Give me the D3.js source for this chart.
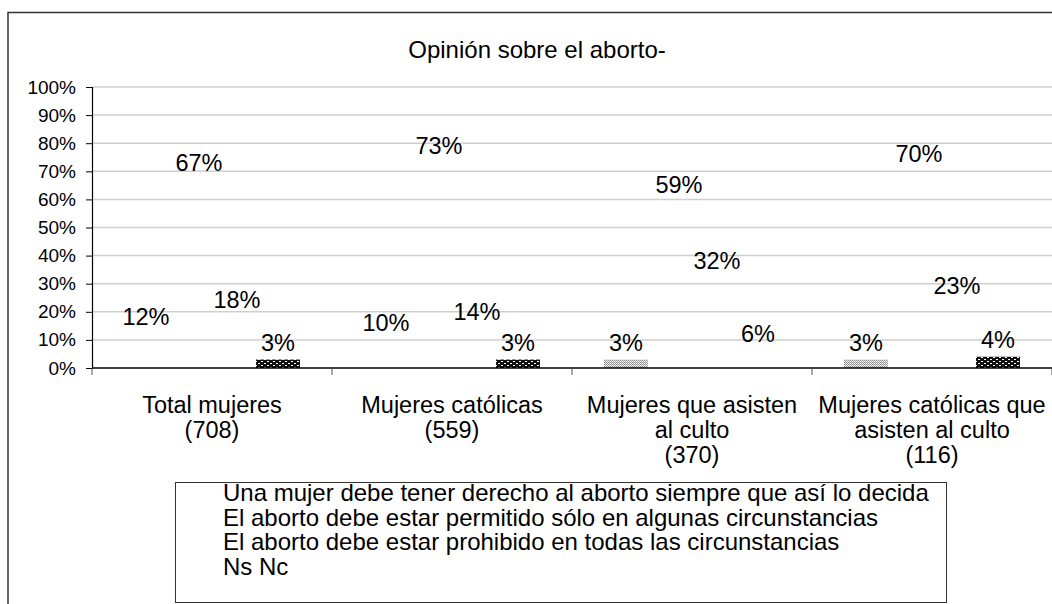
<!DOCTYPE html>
<html>
<head>
<meta charset="utf-8">
<script src="https://cdn.jsdelivr.net/npm/d3@7/dist/d3.min.js"></script>
<style>
  html, body { margin: 0; padding: 0; background: #fff; }
  svg { display: block; font-family: "Liberation Sans", Arial, Helvetica, sans-serif; }
</style>
</head>
<body>
<svg id="chart" width="1052" height="604"></svg>
<script>
// ---- data ----
const title = "Opinión sobre el aborto-";
const categories = ["Total mujeres (708)", "Mujeres católicas (559)", "Mujeres que asisten al culto (370)", "Mujeres católicas que asisten al culto (116)"];
const categoryLines = [
  ["Total mujeres", "(708)"],
  ["Mujeres católicas", "(559)"],
  ["Mujeres que asisten", "al culto", "(370)"],
  ["Mujeres católicas que", "asisten al culto", "(116)"]
];
const seriesNames = [
  "Una mujer debe tener derecho al aborto siempre que así lo decida",
  "El aborto debe estar permitido sólo en algunas circunstancias",
  "El aborto debe estar prohibido en todas las circunstancias",
  "Ns Nc"
];
const derechoSiempre = [0.12, 0.10, 0.03, 0.03];
const algunasCircunstancias = [0.67, 0.73, 0.59, 0.70];
const prohibido = [0.18, 0.14, 0.32, 0.23];
const nsNc = [0.03, 0.03, 0.06, 0.04];
const seriesValues = [derechoSiempre, algunasCircunstancias, prohibido, nsNc];
const yTicks = [0, 0.1, 0.2, 0.3, 0.4, 0.5, 0.6, 0.7, 0.8, 0.9, 1.0];

// ---- layout ----
const svg = d3.select("#chart");
const W = 1052, H = 604;
const plot = { left: 92, right: 1052, top: 87, bottom: 368 };

// patterns
const defs = svg.append("defs");
const pLight = defs.append("pattern").attr("id", "patLight").attr("patternUnits", "userSpaceOnUse")
  .attr("width", 2).attr("height", 2);
pLight.append("rect").attr("width", 2).attr("height", 2).attr("fill", "#fff");
pLight.append("rect").attr("x", 0).attr("y", 0).attr("width", 1).attr("height", 1).attr("fill", "#8a8a8a");
pLight.append("rect").attr("x", 1).attr("y", 1).attr("width", 1).attr("height", 1).attr("fill", "#a0a0a0");
pLight.append("rect").attr("x", 1).attr("y", 0).attr("width", 1).attr("height", 1).attr("fill", "#e6e6e6");
const pDark = defs.append("pattern").attr("id", "patDark").attr("patternUnits", "userSpaceOnUse")
  .attr("width", 6).attr("height", 4);
pDark.append("rect").attr("width", 6).attr("height", 4).attr("fill", "#111");
pDark.append("rect").attr("x", 1).attr("y", 1).attr("width", 2).attr("height", 1).attr("fill", "#fff");
pDark.append("rect").attr("x", 4).attr("y", 3).attr("width", 2).attr("height", 1).attr("fill", "#fff");
const seriesFill = ["url(#patLight)", "none", "none", "url(#patDark)"];

// outer frame
svg.append("rect").attr("x", 8).attr("y", 12.5).attr("width", W).attr("height", H)
  .attr("fill", "none").attr("stroke", "#333").attr("stroke-width", 1.5);

// title
svg.append("text").attr("x", 537).attr("y", 58).attr("text-anchor", "middle")
  .attr("font-size", 24).attr("fill", "#000").text(title);

// scales
const y = d3.scaleLinear().domain([0, 1]).range([plot.bottom, plot.top]);
const x0 = d3.scaleBand().domain(categories).range([plot.left, plot.right]).padding(0);
const x1 = d3.scaleBand().domain(d3.range(seriesNames.length))
  .range([x0.bandwidth() * 0.1333, x0.bandwidth() * 0.8667]).padding(0);

// gridlines
svg.append("g").selectAll("line").data(yTicks.filter(d => d > 0)).join("line")
  .attr("x1", plot.left).attr("x2", plot.right)
  .attr("y1", d => y(d)).attr("y2", d => y(d))
  .attr("stroke", "#cfcfcf").attr("stroke-width", 1.5);

// y axis
const yAxis = svg.append("g").attr("transform", `translate(${plot.left},0)`)
  .call(d3.axisLeft(y).tickValues(yTicks).tickFormat(d3.format(".0%")).tickSize(6).tickPadding(10));
yAxis.select(".domain").attr("stroke", "#000").attr("stroke-width", 1.2);
yAxis.selectAll(".tick line").attr("stroke", "#000");
yAxis.selectAll("text").attr("font-size", 19).attr("fill", "#000")
  .attr("font-family", "Liberation Sans, Arial, sans-serif");

// bars
const groups = svg.append("g").selectAll("g").data(categories).join("g")
  .attr("transform", d => `translate(${x0(d)},0)`);
groups.selectAll("rect").data((c, ci) => seriesValues.map((vals, si) => ({ si, v: vals[ci] })))
  .join("rect")
  .filter(d => d.v <= 0.045)
  .attr("x", d => x1(d.si)).attr("width", x1.bandwidth())
  .attr("y", d => y(d.v)).attr("height", d => y(0) - y(d.v))
  .attr("fill", d => seriesFill[d.si]);

// data labels
groups.selectAll("text.lbl").data((c, ci) => seriesValues.map((vals, si) => ({ si, v: vals[ci] })))
  .join("text").attr("class", "lbl")
  .attr("x", d => x1(d.si) + x1.bandwidth() / 2 + (d.si === 1 ? 9 : (d.si === 2 ? 3 : 0)))
  .attr("y", d => y(d.v) - 9)
  .attr("text-anchor", "middle").attr("font-size", 23.5).attr("fill", "#000")
  .text(d => d3.format(".0%")(d.v));

// x axis
svg.append("line").attr("x1", plot.left).attr("x2", plot.right)
  .attr("y1", y(0)).attr("y2", y(0)).attr("stroke", "#000").attr("stroke-width", 1.5);
const edges = categories.map(c => x0(c)).concat([plot.right]);
svg.append("g").selectAll("line").data(edges).join("line")
  .attr("x1", d => d).attr("x2", d => d)
  .attr("y1", y(0)).attr("y2", y(0) + 7)
  .attr("stroke", "#555").attr("stroke-width", 1);

// category labels
const catG = svg.append("g").selectAll("text").data(categories).join("text")
  .attr("text-anchor", "middle").attr("font-size", 23.5).attr("fill", "#000")
  .attr("transform", d => `translate(${x0(d) + x0.bandwidth() / 2},413)`);
catG.selectAll("tspan").data((d, i) => categoryLines[i]).join("tspan")
  .attr("x", 0).attr("dy", (d, i) => i === 0 ? 0 : 25).text(d => d);

// legend (no visible keys)
const legend = svg.append("g");
legend.append("rect").attr("x", 175.5).attr("y", 482.5).attr("width", 771).attr("height", 120)
  .attr("fill", "#fff").attr("stroke", "#333").attr("stroke-width", 1);
legend.selectAll("text").data(seriesNames).join("text")
  .attr("x", 223).attr("y", (d, i) => 501 + i * 24.6)
  .attr("font-size", 24).attr("fill", "#000").text(d => d);
</script>
</body>
</html>
